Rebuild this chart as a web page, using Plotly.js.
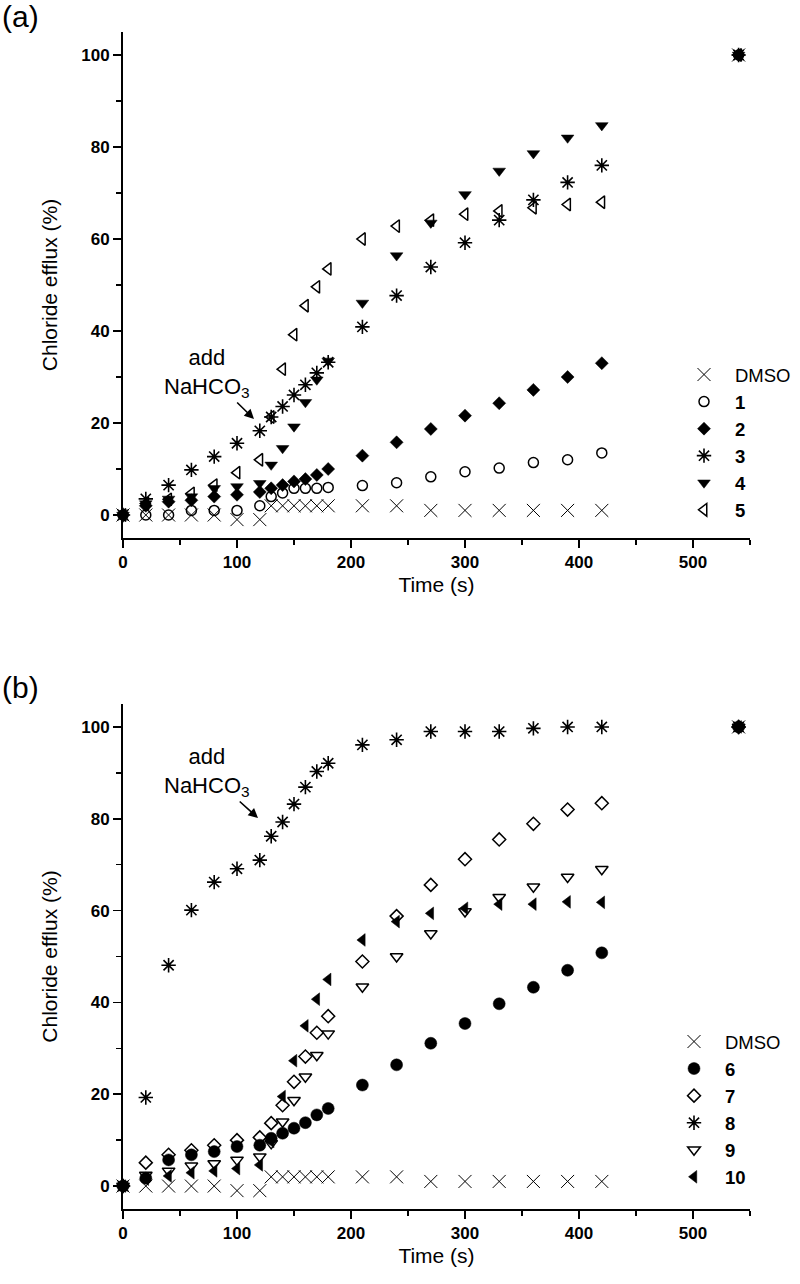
<!DOCTYPE html>
<html>
<head>
<meta charset="utf-8">
<script src="https://cdn.plot.ly/plotly-3.0.1.min.js"></script>
<style>html,body{margin:0;padding:0;background:#fff;}#chart{width:800px;height:1284px;}</style>
</head>
<body>
<div id="chart"></div>
<script>
// Time points (s)
const time = [0,20,40,60,80,100,120,130,140,150,160,170,180,210,240,270,300,330,360,390,420,540];

// Panel (a) chloride efflux (%)
const dmsoA = [0,0,0,0,0,-1,-1,2,2,2,2,2,2,2,2,1,1,1,1,1,1,100];
const cmpd1 = [0,0,0,1,1,1,2,4,4.8,5.8,5.8,5.8,6,6.4,7,8.3,9.4,10.2,11.4,12,13.5,100];
const cmpd2 = [0,2,2.9,3.2,4,4.4,5,5.8,6.5,7.3,7.8,8.7,10,12.9,15.8,18.7,21.6,24.3,27.2,30,33,100];
const cmpd3 = [0,3.5,6.5,9.8,12.7,15.6,18.3,21.3,23.6,26.1,28.3,30.9,33.2,40.9,47.7,53.9,59.2,64.1,68.5,72.3,76,100];
const cmpd4 = [0,2.5,3.5,4,5.8,6.2,6.9,10.9,14.5,19.2,24.5,29.4,33.5,46.1,56.4,63.5,69.7,74.8,78.6,82,84.7,100];
const cmpd5 = [0,2.5,3.4,4.7,6.5,9.2,12,21.3,31.7,39.2,45.5,49.6,53.5,60,62.8,64.1,65.4,66.1,66.8,67.5,68,100];

// Panel (b) chloride efflux (%)
const dmsoB = [0,0,0,0,0,-1,-1,2,2,2,2,2,2,2,2,1,1,1,1,1,1,100];
const cmpd6 = [0,1.7,5.7,6.8,7.5,8.6,8.9,10.4,11.5,12.6,13.8,15.5,16.9,22,26.4,31.1,35.4,39.7,43.3,47,50.8,100];
const cmpd7 = [0,5.1,6.8,7.8,8.9,10,10.6,13.7,17.6,22.7,28.2,33.4,37,48.9,58.8,65.6,71.2,75.5,78.9,82,83.4,100];
const cmpd8 = [0,19.3,48.1,60.1,66.2,69.1,71,76.2,79.3,83.2,86.9,90.3,92.1,96.1,97.2,99,99,99,99.7,100,100,100];
const cmpd9 = [0,2.4,3.3,4.4,4.9,5.7,6.4,9.3,14,18.7,23.8,28.5,33.2,43.4,50,55,59.8,62.9,65.2,67.3,69,100];
const cmpd10 = [0,1.5,2.2,2.9,3.3,3.8,4.6,9.7,19.5,27.3,34.9,40.7,45,53.6,57.6,59.4,60.5,61.4,61.4,61.9,61.8,100];

const namesA = ['DMSO','<b>1</b>','<b>2</b>','<b>3</b>','<b>4</b>','<b>5</b>'];
const namesB = ['DMSO','<b>6</b>','<b>7</b>','<b>8</b>','<b>9</b>','<b>10</b>'];

const FONT = 'Liberation Sans, Arial, sans-serif';
const K = '#000000';

function tr(y, name, symbol, size, lw, xa, ya, leg) {
  return {
    type: 'scatter', mode: 'markers', x: time, y: y, name: name,
    xaxis: xa, yaxis: ya, legend: leg, cliponaxis: false,
    marker: {symbol: symbol, size: size, color: K, line: {color: K, width: lw}}
  };
}

const traces = [
  tr(dmsoA, namesA[0], 'x-thin-open', 13, 1, 'x', 'y', 'legend'),
  tr(cmpd1, namesA[1], 'circle-open', 10, 1.5, 'x', 'y', 'legend'),
  tr(cmpd2, namesA[2], 'diamond', 10, 0.5, 'x', 'y', 'legend'),
  tr(cmpd3, namesA[3], 'asterisk-open', 12, 1.6, 'x', 'y', 'legend'),
  tr(cmpd4, namesA[4], 'triangle-down', 11, 0.5, 'x', 'y', 'legend'),
  tr(cmpd5, namesA[5], 'triangle-left-open', 11, 1.5, 'x', 'y', 'legend'),
  tr(dmsoB, namesB[0], 'x-thin-open', 13, 1, 'x2', 'y2', 'legend2'),
  tr(cmpd6, namesB[1], 'circle', 12, 0.5, 'x2', 'y2', 'legend2'),
  tr(cmpd7, namesB[2], 'diamond-open', 10, 1.5, 'x2', 'y2', 'legend2'),
  tr(cmpd8, namesB[3], 'asterisk-open', 12, 1.6, 'x2', 'y2', 'legend2'),
  tr(cmpd9, namesB[4], 'triangle-down-open', 11, 1.5, 'x2', 'y2', 'legend2'),
  tr(cmpd10, namesB[5], 'triangle-left', 11, 0.5, 'x2', 'y2', 'legend2')
];

const W = 800, H = 1284;
const px = v => v / W;
const py = v => 1 - v / H;

function xax(anchor) {
  return {
    domain: [px(123), px(750)], anchor: anchor, range: [0, 550],
    tick0: 0, dtick: 100, ticks: 'outside', ticklen: 8, tickwidth: 1.6, tickcolor: K,
    minor: {dtick: 50, ticks: 'outside', ticklen: 5, tickwidth: 1.6, tickcolor: K},
    showline: true, linewidth: 2, linecolor: K, showgrid: false, zeroline: false,
    tickfont: {family: FONT, size: 17, color: K, weight: 'bold'},
    title: {text: 'Time (s)', font: {family: FONT, size: 21, color: K}, standoff: 6}
  };
}
function yax(anchor, top, bottom) {
  return {
    domain: [py(bottom), py(top)], anchor: anchor, range: [-5, 105],
    tick0: 0, dtick: 20, ticks: 'outside', ticklen: 8, tickwidth: 1.6, tickcolor: K,
    minor: {dtick: 10, ticks: 'outside', ticklen: 5, tickwidth: 1.6, tickcolor: K},
    showline: true, linewidth: 2, linecolor: K, showgrid: false, zeroline: false,
    tickfont: {family: FONT, size: 17, color: K, weight: 'bold'},
    title: {text: 'Chloride efflux (%)', font: {family: FONT, size: 21, color: K}, standoff: 18}
  };
}

const annFont = {family: FONT, size: 22, color: K};
const legFont = {family: FONT, size: 18.5, color: K};
const layout = {
  width: W, height: H,
  margin: {l: 0, r: 0, t: 0, b: 0},
  paper_bgcolor: '#fff', plot_bgcolor: '#fff',
  font: {family: FONT, color: K},
  xaxis: xax('y'), yaxis: yax('x', 32, 538),
  xaxis2: xax('y2'), yaxis2: yax('x2', 704, 1209),
  showlegend: true,
  legend: {x: px(673), xanchor: 'left', y: py(356), yanchor: 'top', itemwidth: 52,
           font: legFont, bgcolor: 'rgba(0,0,0,0)', borderwidth: 0},
  legend2: {x: px(663), xanchor: 'left', y: py(1023), yanchor: 'top', itemwidth: 52,
           font: legFont, bgcolor: 'rgba(0,0,0,0)', borderwidth: 0},
  annotations: [
    {text: '(a)', xref: 'paper', yref: 'paper', x: px(0), y: py(17), xanchor: 'left', yanchor: 'middle',
     showarrow: false, font: {family: FONT, size: 30, color: K}},
    {text: '(b)', xref: 'paper', yref: 'paper', x: px(0), y: py(688), xanchor: 'left', yanchor: 'middle',
     showarrow: false, font: {family: FONT, size: 30, color: K}},
    {text: 'add<br>NaHCO<sub>3</sub>', xref: 'paper', yref: 'paper', x: px(254), y: py(419),
     ax: -47, ay: -46, showarrow: true, arrowhead: 2, arrowsize: 1.2, arrowwidth: 1.6, arrowcolor: K,
     font: annFont},
    {text: 'add<br>NaHCO<sub>3</sub>', xref: 'paper', yref: 'paper', x: px(258), y: py(818),
     ax: -51, ay: -46, showarrow: true, arrowhead: 2, arrowsize: 1.2, arrowwidth: 1.6, arrowcolor: K,
     font: annFont}
  ]
};

Plotly.newPlot('chart', traces, layout, {staticPlot: true, displayModeBar: false});
</script>
</body>
</html>
